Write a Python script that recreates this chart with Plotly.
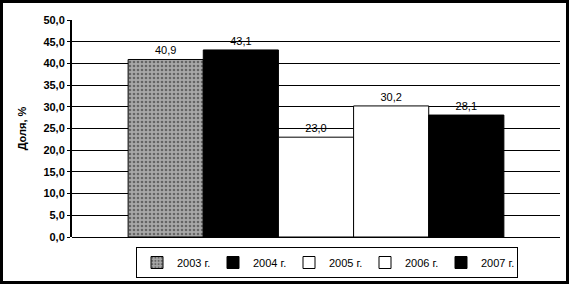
import plotly.graph_objects as go

years = ["2003 г.", "2004 г.", "2005 г.", "2006 г.", "2007 г."]
shares = [40.9, 43.1, 23.0, 30.2, 28.1]
labels = ["40,9", "43,1", "23,0", "30,2", "28,1"]
fills = ["#a8a8a8", "#000000", "#ffffff", "#ffffff", "#000000"]
patterns = [".", "", "", "", ""]
y_ticks = [0, 5, 10, 15, 20, 25, 30, 35, 40, 45, 50]

W, H = 569, 284
L, R, T, B = 72, 9, 20, 47
pw, ph = W - L - R, H - T - B

def px(x):
    return (x - L) / pw

def py(y):
    return (H - B - y) / ph

fig = go.Figure()
for name, v, lab, c, p in zip(years, shares, labels, fills, patterns):
    fig.add_trace(go.Bar(
        x=[""], y=[v], name=name, text=[lab], textposition="outside",
        textfont=dict(size=11, color="black", family="Liberation Sans"),
        cliponaxis=False,
        marker=dict(color=c, line=dict(color="black", width=1),
                    pattern=dict(shape=p, fgcolor="#222222", bgcolor=c, size=4, solidity=0.35) if p else None),
    ))

fig.update_layout(
    width=W, height=H,
    margin=dict(l=L, r=R, t=T, b=B, autoexpand=False),
    paper_bgcolor="white", plot_bgcolor="white",
    barmode="group", bargap=0.23, bargroupgap=0,
    separators=", ",
    font=dict(family="Liberation Sans", size=11, color="black"),
    showlegend=True,
    legend=dict(orientation="h", x=px(136), y=py(247), xanchor="left", yanchor="top",
                bordercolor="black", borderwidth=1, bgcolor="white",
                font=dict(size=11, family="Liberation Sans"),
                entrywidth=31, entrywidthmode="pixels",
                itemwidth=30, tracegroupgap=0),
    xaxis=dict(showticklabels=False, showgrid=False, ticks="", range=[-0.5, 0.5],
               showline=False, zeroline=False, automargin=False),
    yaxis=dict(range=[0, 50], tickvals=y_ticks, tickformat=".1f", automargin=False,
               showgrid=True, gridcolor="black", gridwidth=1,
               showline=True, linecolor="black", linewidth=2,
               ticks="outside", ticklen=3, tickcolor="black",
               zeroline=True, zerolinecolor="black", zerolinewidth=1,
               tickfont=dict(size=11, family="Liberation Sans", weight="bold"),
               title=dict(text="<b>Доля, %</b>", font=dict(size=11), standoff=15)),
    shapes=[
        dict(type="rect", xref="paper", yref="paper",
             x0=px(1.5), x1=px(567.5), y0=py(282.5), y1=py(1.5),
             line=dict(color="black", width=3), fillcolor="rgba(0,0,0,0)", layer="above"),
    ],
)

fig.write_html("out.html", config={"displayModeBar": False},
               post_script="document.body.style.margin='0';document.body.style.overflow='hidden';")
